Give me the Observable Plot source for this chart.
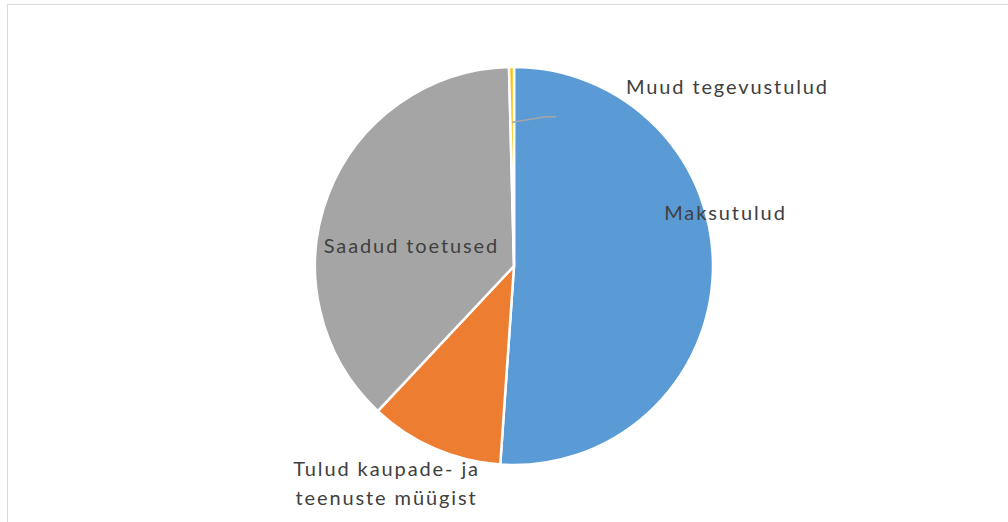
<!DOCTYPE html>
<html><head><meta charset="utf-8">
<script src="https://cdn.jsdelivr.net/npm/d3@7"></script>
<script src="https://cdn.jsdelivr.net/npm/@observablehq/plot@0.6"></script>
<style>
body{margin:0;overflow:hidden;background:#fff;width:1008px;height:522px}
#frame{position:absolute;left:7px;top:4px;width:1100px;height:600px;border:1.5px solid #d9d9d9;}
#chart{position:absolute;left:0;top:0}
</style></head><body><div id="frame"></div><div id="chart"></div>
<script>
// Data
const categories = ["Maksutulud", "Tulud kaupade- ja\nteenuste müügist", "Saadud toetused", "Muud tegevustulud"];
const shares = [51.1, 10.9, 37.6, 0.4];
const colors = ["#5b9bd5", "#ed7d31", "#a5a5a5", "#ffc000"];

// Label placement in unit-circle coordinates (layout, not data)
const labelX = [1.06, -0.643, -0.518, 1.07];
const labelY = [0.281, -1.081, 0.115, 0.915];

const arcs = d3.pie().sort(null).value(d => d)(shares);

// leader for the tiny slice
const small = arcs[3];
const mid = (small.startAngle + small.endAngle) / 2;
const r0 = 0.725;
const sx = r0 * Math.sin(mid), sy = r0 * Math.cos(mid);
const leader = [
  {x: sx, y: sy},
  {x: sx + 0.166, y: sy + 0.027},
  {x: sx + 0.216, y: sy + 0.027}
];

function pieMark(index, scales, values, dims, context) {
  const cx = scales.x(0), cy = scales.y(0);
  const r = Math.abs(scales.x(1) - scales.x(0));
  const g = d3.create("svg:g");
  g.selectAll("path").data(arcs).join("path")
    .attr("transform", `translate(${cx},${cy})`)
    .attr("d", d3.arc().innerRadius(0).outerRadius(r))
    .attr("fill", (d, i) => colors[i])
    .attr("stroke", "#fff")
    .attr("stroke-width", 2.5)
    .attr("stroke-linejoin", "round");
  return g.node();
}

const idx = d3.range(categories.length);
const chart = Plot.plot({
  width: 1008,
  height: 522,
  margin: 0,
  x: {domain: [-1, 1], range: [315, 713], axis: null},
  y: {domain: [-1, 1], range: [465, 67], axis: null},
  style: {background: "transparent", fontFamily: "Lato, 'Open Sans', sans-serif", letterSpacing: "1.9px"},
  marks: [
    pieMark,
    Plot.line(leader, {x: "x", y: "y", stroke: "#a6a6a6", strokeWidth: 1.5}),
    Plot.text(idx, {
      x: i => labelX[i], y: i => labelY[i], text: i => categories[i],
      fontSize: 20, fill: "#404040", textAnchor: "middle", lineHeight: 1.45
    })
  ]
});
document.getElementById("chart").append(chart);
</script>
</body></html>
